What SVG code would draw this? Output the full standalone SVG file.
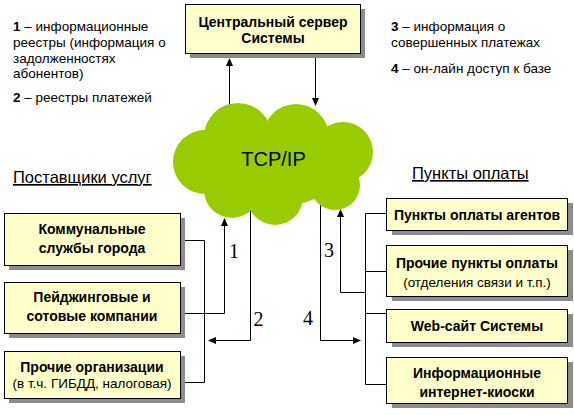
<svg xmlns="http://www.w3.org/2000/svg" width="574" height="415" viewBox="0 0 574 415">
<defs>
<marker id="ah" viewBox="0 0 8 8" refX="7" refY="4" markerWidth="8" markerHeight="8" markerUnits="userSpaceOnUse" orient="auto">
<path d="M0,0.5 L8,4 L0,7.5 z" fill="#000"/>
</marker>
</defs>
<style>
.box{fill:#ffffcc;stroke:#000;stroke-width:1}
.sh{fill:#8c8c8c}
.t{font-family:"Liberation Sans",Arial,sans-serif;font-weight:bold;font-size:14px;fill:#000;text-anchor:middle}
.s{font-family:"Liberation Sans",Arial,sans-serif;font-size:13.5px;fill:#000;text-anchor:middle}
.lg{font-family:"Liberation Sans",Arial,sans-serif;font-size:13.5px;fill:#000}
.lg tspan.b{font-weight:bold}
.hd{font-family:"Liberation Sans",Arial,sans-serif;font-size:16.5px;fill:#000;text-decoration:underline}
.num{font-family:"Liberation Serif","Times New Roman",serif;font-size:20px;fill:#000;text-anchor:middle}
.ln{fill:none;stroke:#000;stroke-width:1}
.cl{fill:#99cc00}
</style>
<rect width="574" height="415" fill="#fff"/>

<g id="legend-left">
<text class="lg" x="13" y="31"><tspan class="b">1</tspan> – информационные</text>
<text class="lg" x="13" y="47">реестры (информация о</text>
<text class="lg" x="13" y="63">задолженностях</text>
<text class="lg" x="13" y="78">абонентов)</text>
<text class="lg" x="13" y="102"><tspan class="b">2</tspan> – реестры платежей</text>
</g>
<g id="legend-right">
<text class="lg" x="391" y="31"><tspan class="b">3</tspan> – информация о</text>
<text class="lg" x="391" y="47">совершенных платежах</text>
<text class="lg" x="391" y="73"><tspan class="b">4</tspan> – он-лайн доступ к базе</text>
</g>

<g id="connectors">
<line class="ln" x1="229.5" y1="105" x2="229.5" y2="59" marker-end="url(#ah)"/>
<line class="ln" x1="315.5" y1="54" x2="315.5" y2="105" marker-end="url(#ah)"/>
<polyline class="ln" points="180,240.5 204.5,240.5 204.5,382.5 180,382.5"/>
<polyline class="ln" points="180,313.5 224.5,313.5 224.5,219" marker-end="url(#ah)"/>
<polyline class="ln" points="250.5,210 250.5,340.5 209,340.5" marker-end="url(#ah)"/>
<polyline class="ln" points="387,213.5 365.5,213.5 365.5,384.5 387,384.5"/>
<line class="ln" x1="365.5" y1="271.5" x2="387" y2="271.5"/>
<line class="ln" x1="365.5" y1="313.5" x2="387" y2="313.5"/>
<polyline class="ln" points="365.5,292.5 340.5,292.5 340.5,210" marker-end="url(#ah)"/>
<polyline class="ln" points="320.5,205 320.5,340.5 360,340.5" marker-end="url(#ah)"/>
<text class="num" x="234" y="258">1</text>
<text class="num" x="258.5" y="326">2</text>
<text class="num" x="329" y="257">3</text>
<text class="num" x="308" y="325">4</text>
</g>

<g id="server">
<rect class="sh" x="190" y="9" width="175" height="49"/>
<rect class="box" x="185.5" y="4.5" width="175" height="49"/>
<text class="t" x="273" y="27">Центральный сервер</text>
<text class="t" x="273" y="43">Системы</text>
</g>

<g id="cloud">
<circle class="cl" cx="238" cy="137" r="34"/>
<circle class="cl" cx="296" cy="137" r="33"/>
<circle class="cl" cx="343" cy="152" r="30"/>
<circle class="cl" cx="335" cy="185" r="25"/>
<circle class="cl" cx="275" cy="197" r="28"/>
<circle class="cl" cx="232" cy="190" r="28"/>
<circle class="cl" cx="205" cy="162" r="32"/>
<ellipse class="cl" cx="272" cy="165" rx="72" ry="42"/>
<text x="273.5" y="166" font-family="'Liberation Sans',Arial,sans-serif" font-size="20" text-anchor="middle" fill="#000">TCP/IP</text>
</g>

<g id="heading-left">
<text class="hd" x="13" y="183">Поставщики услуг</text>
</g>
<g id="heading-right">
<text class="hd" x="412" y="179">Пункты оплаты</text>
</g>

<g id="node-kommunal">
<rect class="sh" x="9" y="218" width="176" height="52"/>
<rect class="box" x="4.5" y="213.5" width="176" height="52"/>
<text class="t" x="92" y="234">Коммунальные</text>
<text class="t" x="92" y="253">службы города</text>
</g>
<g id="node-pager">
<rect class="sh" x="9" y="287" width="176" height="51"/>
<rect class="box" x="4.5" y="282.5" width="176" height="51"/>
<text class="t" x="92" y="302">Пейджинговые и</text>
<text class="t" x="92" y="321">сотовые компании</text>
</g>
<g id="node-other-org">
<rect class="sh" x="9" y="356" width="176" height="47"/>
<rect class="box" x="4.5" y="351.5" width="176" height="47"/>
<text class="t" x="92" y="372">Прочие организации</text>
<text class="s" x="92" y="388">(в т.ч. ГИБДД, налоговая)</text>
</g>

<g id="node-agents">
<rect class="sh" x="392" y="203" width="181" height="32"/>
<rect class="box" x="386.5" y="198.5" width="181" height="32"/>
<text class="t" x="477" y="220">Пункты оплаты агентов</text>
</g>
<g id="node-other-points">
<rect class="sh" x="392" y="250" width="181" height="51"/>
<rect class="box" x="386.5" y="245.5" width="181" height="51"/>
<text class="t" x="477" y="268">Прочие пункты оплаты</text>
<text class="s" x="477" y="287">(отделения связи и т.п.)</text>
</g>
<g id="node-web">
<rect class="sh" x="392" y="314" width="181" height="33"/>
<rect class="box" x="386.5" y="309.5" width="181" height="33"/>
<text class="t" x="477" y="331">Web-сайт Системы</text>
</g>
<g id="node-kiosk">
<rect class="sh" x="392" y="362" width="181" height="46"/>
<rect class="box" x="386.5" y="357.5" width="181" height="46"/>
<text class="t" x="477" y="378">Информационные</text>
<text class="t" x="477" y="397">интернет-киоски</text>
</g>
</svg>
